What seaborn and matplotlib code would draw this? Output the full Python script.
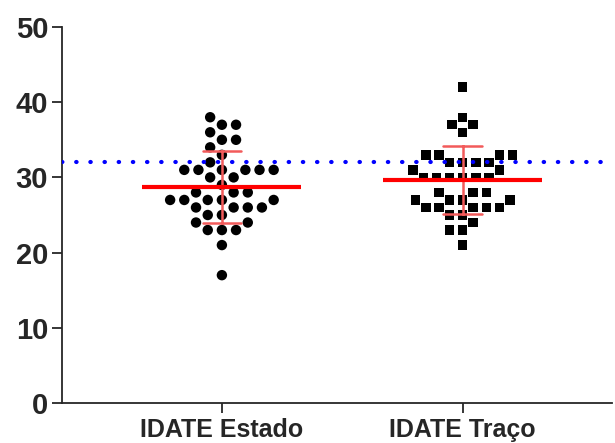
import numpy as np
import pandas as pd
import matplotlib
matplotlib.use('Agg')
import matplotlib.pyplot as plt
import seaborn as sns

# categorias e valores
categorias = ['IDATE Estado', 'IDATE Traço']
estado = [38, 37, 37, 36, 35, 35, 34, 33, 32,
          31, 31, 31, 31, 31, 31, 30, 30, 29, 28, 28, 28,
          27, 27, 27, 27, 27, 26, 26, 26, 26, 25, 25, 24, 24,
          23, 23, 23, 21, 17]
traco = [42, 38, 37, 37, 36, 33, 33, 33, 33, 32, 32, 32, 32, 31, 31,
         30, 30, 30, 30, 30, 30, 28, 28, 28, 27, 27, 27, 27,
         26, 26, 26, 26, 26, 25, 25, 24, 23, 23, 21]
linha_corte = 32
y_ticks = [0, 10, 20, 30, 40, 50]

df = pd.DataFrame({
    'grupo': [categorias[0]] * len(estado) + [categorias[1]] * len(traco),
    'valor': estado + traco,
})

sns.set_style('ticks')
plt.rcParams['font.family'] = ['Liberation Sans', 'DejaVu Sans']
plt.rcParams['font.weight'] = 'bold'

fig = plt.figure(figsize=(6.15, 4.43), dpi=100)
ax = fig.add_axes([62 / 615, 40 / 443, 550 / 615, 376 / 443])

# pontos (borda invisível larga para afastar os marcadores no enxame)
sns.swarmplot(data=df[df['grupo'] == categorias[0]], x='grupo', y='valor', order=categorias,
              color='black', marker='o', size=7.5, linewidth=2.2, edgecolor='none',
              ax=ax, zorder=2)
sns.swarmplot(data=df[df['grupo'] == categorias[1]], x='grupo', y='valor', order=categorias,
              color='black', marker='s', size=6.8, linewidth=2.2, edgecolor='none',
              ax=ax, zorder=2)

# média ± DP
sns.pointplot(data=df, x='grupo', y='valor', order=categorias, errorbar='sd',
              linestyle='none', markers='', color='#f25a5a', capsize=0.16,
              err_kws={'linewidth': 1.8, 'zorder': 3}, ax=ax)
medias = df.groupby('grupo')['valor'].mean().reindex(categorias)
for i, m in enumerate(medias):
    ax.hlines(m, i - 0.33, i + 0.33, color='red', linewidth=3, zorder=4)

# linha de corte
ax.axhline(linha_corte, xmin=0, xmax=0.985, color='blue', linewidth=3,
           linestyle=(0, (0.1, 3.3)), dash_capstyle='round', zorder=5)

ax.set_xlim(-0.664, 1.62)
ax.set_ylim(0, 50)
ax.set_yticks(y_ticks)
ax.set_xlabel('')
ax.set_ylabel('')
ax.tick_params(axis='y', labelsize=21, length=7, width=1.3, pad=3)
ax.tick_params(axis='x', labelsize=18, length=7, width=1.3, pad=4)
for lbl in ax.get_xticklabels() + ax.get_yticklabels():
    lbl.set_fontweight('bold')
for s in ['left', 'bottom']:
    ax.spines[s].set_linewidth(1.3)
sns.despine(ax=ax)

fig.savefig('out.png', dpi=100)
